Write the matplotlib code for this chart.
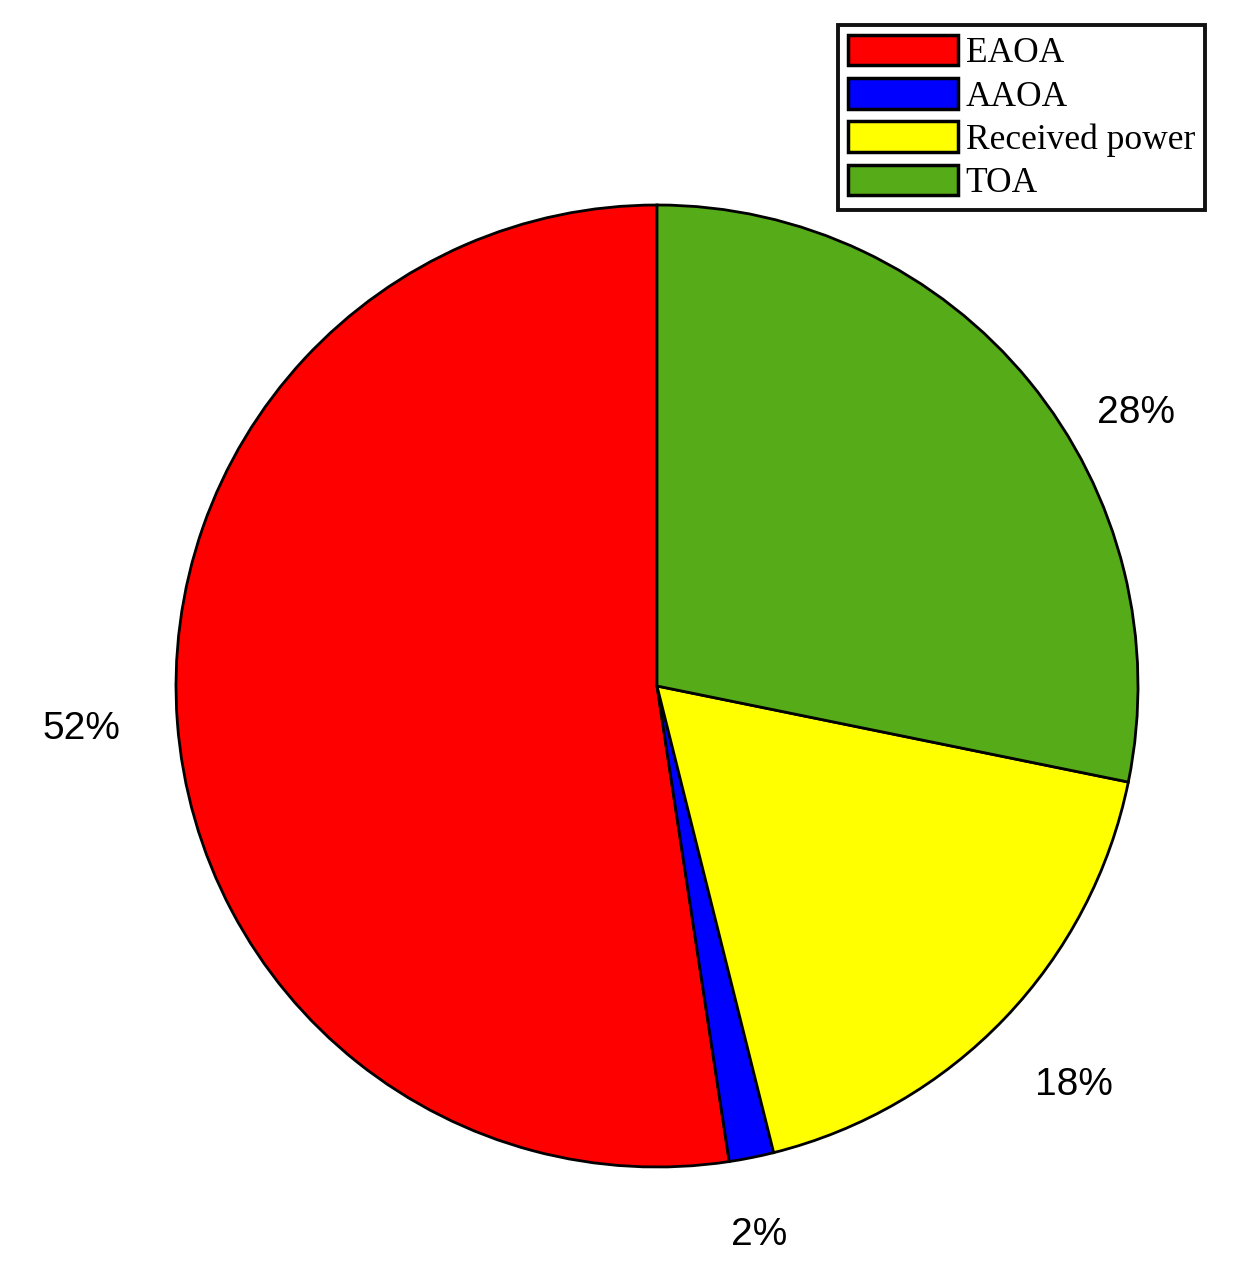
import matplotlib.pyplot as plt
import numpy as np

# data (percent shares)
labels = ['EAOA', 'AAOA', 'Received power', 'TOA']
shares = [52.4, 1.5, 17.9, 28.2]
pct_text = ['52%', '2%', '18%', '28%']
colors = ['#ff0000', '#0000ff', '#ffff00', '#56ab19']

fig = plt.figure(figsize=(12.41, 12.81), dpi=100)
ax = fig.add_axes([174 / 1241, 114 / 1281, 966 / 1241, 962 / 1281])

wedges, texts = ax.pie(shares, colors=colors, labels=pct_text, startangle=90,
                       counterclock=True, labeldistance=1.2, radius=1,
                       wedgeprops=dict(edgecolor='black', linewidth=2),
                       textprops=dict(family='Liberation Sans', fontsize=28))
for t in texts:
    t.set_ha('center')
    t.set_va('center')

# a couple of labels sit a bit off the default spot in the original
texts[1].set_position((0.213, -1.141))
texts[3].set_position((0.996, 0.567))

ax.set_xlim(-1, 1)
ax.set_ylim(-1, 1)
ax.axis('off')

leg = fig.legend(wedges, labels, loc='upper right',
                 bbox_to_anchor=(1205 / 1241, 1 - 25 / 1281),
                 prop=dict(family='Liberation Serif', size=25.5),
                 frameon=True, fancybox=False, framealpha=1,
                 handlelength=3.1, handleheight=0.95,
                 handletextpad=0.22, labelspacing=0.22, borderpad=0.28,
                 borderaxespad=0)
leg.get_frame().set_edgecolor('#111111')
leg.get_frame().set_linewidth(2.8)
for h in leg.legend_handles:
    h.set_linewidth(2.5)

fig.savefig('out.png', dpi=100)
